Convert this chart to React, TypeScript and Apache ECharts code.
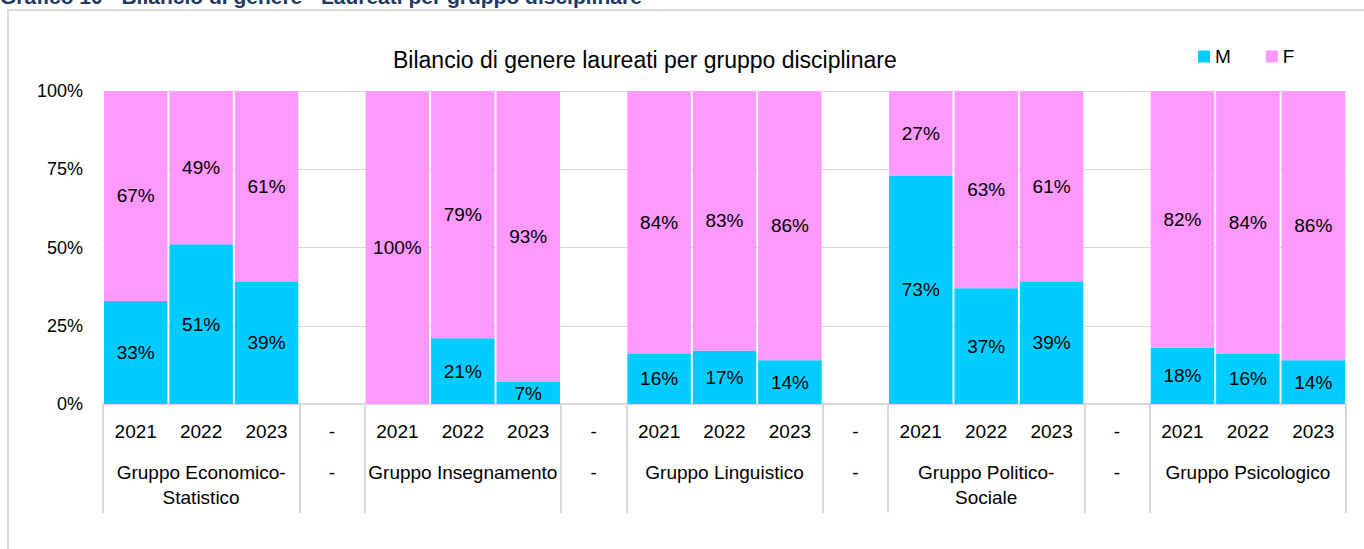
import React, { useEffect, useRef } from "react";
import * as echarts from "echarts";

const years = ["2021", "2022", "2023", "-", "2021", "2022", "2023", "-", "2021", "2022", "2023", "-", "2021", "2022", "2023", "-", "2021", "2022", "2023"];
const groupLabels = ["", "Gruppo Economico-\nStatistico", "", "-", "", "Gruppo Insegnamento", "", "-", "", "Gruppo Linguistico", "", "-", "", "Gruppo Politico-\nSociale", "", "-", "", "Gruppo Psicologico", ""];
const maleValues: (number | null)[] = [33, 51, 39, null, 0, 21, 7, null, 16, 17, 14, null, 73, 37, 39, null, 18, 16, 14];
const femaleValues: (number | null)[] = [67, 49, 61, null, 100, 79, 93, null, 84, 83, 86, null, 27, 63, 61, null, 82, 84, 86];
const boundaryIdx = [0, 3, 4, 7, 8, 11, 12, 15, 16];

const FONT = "Liberation Sans, Arial, sans-serif";

export default function App() {
  const ref = useRef<HTMLDivElement>(null);
  useEffect(() => {
    if (!ref.current) return;
    const chart = echarts.init(ref.current, null, { renderer: "svg" });
    const labelCommon = {
      show: true,
      position: "inside" as const,
      color: "#000",
      fontSize: 19,
      fontFamily: FONT,
      formatter: (p: any) => (p.value && p.value > 0 ? p.value + "%" : ""),
    };
    chart.setOption({
      animation: false,
      backgroundColor: "#fff",
      textStyle: { fontFamily: FONT },
      title: {
        text: "Bilancio di genere laureati per gruppo disciplinare",
        left: 388,
        top: 43,
        textStyle: { fontSize: 23, fontWeight: "normal", color: "#000", fontFamily: FONT },
      },
      legend: {
        left: 1193,
        top: 42,
        icon: "rect",
        itemWidth: 12,
        itemHeight: 12,
        itemGap: 35,
        textStyle: { fontSize: 19, color: "#000", fontFamily: FONT },
        data: ["M", "F"],
      },
      graphic: [
        {
          type: "text",
          left: 0,
          top: -14,
          style: {
            text: "Grafico 10 - Bilancio di genere - Laureati per gruppo disciplinare",
            font: "bold 21px " + FONT,
            fill: "#1f3864",
          },
        },
        {
          type: "rect",
          shape: { x: 8, y: 10, width: 1400, height: 600 },
          style: { fill: "none", stroke: "#d9d9d9", lineWidth: 2 },
        },
      ],
      grid: { left: 103, right: 18, top: 91, bottom: 145 },
      xAxis: [
        {
          type: "category",
          data: years,
          position: "bottom",
          axisLine: { show: true, lineStyle: { color: "#d9d9d9", width: 2 } },
          axisTick: {
            show: true,
            length: 109,
            interval: (i: number) => boundaryIdx.indexOf(i) >= 0,
            lineStyle: { color: "#d9d9d9", width: 2 },
          },
          axisLabel: { interval: 0, margin: 18, fontSize: 19, color: "#000", fontFamily: FONT },
        },
        {
          type: "category",
          data: groupLabels,
          position: "bottom",
          axisLine: { show: false },
          axisTick: { show: false },
          axisLabel: {
            interval: 0,
            margin: 56,
            fontSize: 19,
            lineHeight: 25,
            color: "#000",
            fontFamily: FONT,
            verticalAlign: "top",
          },
        },
      ],
      yAxis: {
        type: "value",
        min: 0,
        max: 100,
        interval: 25,
        axisLine: { show: false },
        axisTick: { show: false },
        axisLabel: { formatter: "{value}%", fontSize: 18, color: "#000", margin: 20, fontFamily: FONT },
        splitLine: { show: true, lineStyle: { color: "#d9d9d9", width: 1 } },
      },
      series: [
        {
          name: "M",
          type: "bar",
          stack: "tot",
          data: maleValues,
          barCategoryGap: "3%",
          itemStyle: { color: "#00CCFF" },
          label: labelCommon,
        },
        {
          name: "F",
          type: "bar",
          stack: "tot",
          data: femaleValues,
          barCategoryGap: "3%",
          itemStyle: { color: "#FF99FF" },
          label: labelCommon,
        },
      ],
    });
    return () => chart.dispose();
  }, []);
  return (
    <div
      ref={ref}
      style={{ position: "absolute", left: 0, top: 0, width: 1364, height: 549 }}
    />
  );
}
